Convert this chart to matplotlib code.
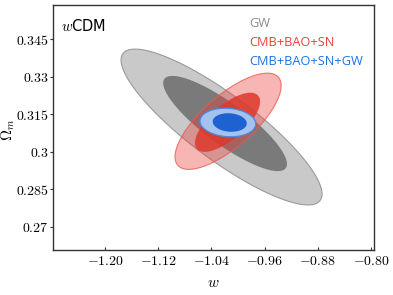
import numpy as np
import matplotlib
matplotlib.use("Agg")
import matplotlib.pyplot as plt

plt.rcParams["mathtext.fontset"] = "cm"

# contour parameters: [95% outer, 68% inner]
gw_w = [-1.0248, -1.0195]
gw_om = [0.3099, 0.3113]
gw_dw = [0.151, 0.093]
gw_dom = [0.0311, 0.0190]
gw_rho = [-0.86, -0.85]

cbs_w = [-1.015, -1.0158]
cbs_om = [0.3122, 0.3118]
cbs_dw = [0.0797, 0.0489]
cbs_dom = [0.0192, 0.0118]
cbs_rho = [0.74, 0.70]

cbsg_w = [-1.0153, -1.0125]
cbsg_om = [0.3117, 0.3117]
cbsg_dw = [0.0419, 0.0256]
cbsg_dom = [0.0057, 0.0037]
cbsg_rho = [-0.10, -0.10]

labels = ["GW", "CMB+BAO+SN", "CMB+BAO+SN+GW"]
xticks = [-1.20, -1.12, -1.04, -0.96, -0.88, -0.80]
yticks = [0.27, 0.285, 0.30, 0.315, 0.33, 0.345]
ytick_labels = ["0.27", "0.285", "0.3", "0.315", "0.33", "0.345"]


def ellipse(cx, cy, dx, dy, rho):
    t = np.linspace(0, 2 * np.pi, 300)
    x = cx + dx * np.cos(t)
    y = cy + dy * (rho * np.cos(t) + np.sqrt(1 - rho ** 2) * np.sin(t))
    return x, y


fig = plt.figure(figsize=(3.93, 2.95), dpi=100)
ax = fig.add_axes([0.135, 0.1525, 0.817, 0.8305])

# GW
x, y = ellipse(gw_w[0], gw_om[0], gw_dw[0], gw_dom[0], gw_rho[0])
ax.fill(x, y, fc="#c9c9c9", ec="#9a9a9a", lw=0.8, zorder=1)
x, y = ellipse(gw_w[1], gw_om[1], gw_dw[1], gw_dom[1], gw_rho[1])
ax.fill(x, y, fc="#7a7a7a", ec="none", zorder=2)

# CMB+BAO+SN
x, y = ellipse(cbs_w[0], cbs_om[0], cbs_dw[0], cbs_dom[0], cbs_rho[0])
ax.fill(x, y, fc=(0.92, 0.25, 0.22, 0.38), ec=(0.92, 0.35, 0.32, 0.8), lw=0.8, zorder=3)
x, y = ellipse(cbs_w[1], cbs_om[1], cbs_dw[1], cbs_dom[1], cbs_rho[1])
ax.fill(x, y, fc=(0.87, 0.22, 0.17, 0.85), ec="none", zorder=4)

# CMB+BAO+SN+GW
x, y = ellipse(cbsg_w[0], cbsg_om[0], cbsg_dw[0], cbsg_dom[0], cbsg_rho[0])
ax.fill(x, y, fc="#a3c2f0", ec="#4f86dc", lw=0.9, zorder=5)
x, y = ellipse(cbsg_w[1], cbsg_om[1], cbsg_dw[1], cbsg_dom[1], cbsg_rho[1])
ax.fill(x, y, fc="#1d62d0", ec="none", zorder=6)

ax.set_xlim(-1.278, -0.7955)
ax.set_ylim(0.2608, 0.3586)
ax.set_xticks(xticks, [r"$%.2f$" % v for v in xticks])
ax.set_yticks(yticks, [r"$%s$" % s for s in ytick_labels])
ax.tick_params(axis="x", direction="in", length=2.5, labelsize=10, pad=3, color="#333333")
ax.tick_params(axis="y", direction="out", length=2, labelsize=10, pad=1, color="#333333")
for s in ax.spines.values():
    s.set_color("#333333")
    s.set_linewidth(1.0)

ax.set_xlabel(r"$w$", fontsize=11, labelpad=5)
ax.set_ylabel(r"$\Omega_m$", fontsize=11)
ax.yaxis.set_label_coords(-0.112, 0.49)

ax.text(0.025, 0.915, r"$w$CDM", transform=ax.transAxes, fontsize=10.5,
        family="DejaVu Sans", va="center")

colors = ["#8a8a8a", "#e8423a", "#1a73e8"]
for i, (lab, c) in enumerate(zip(labels, colors)):
    ax.text(0.612, 0.925 - i * 0.077, lab, color=c, transform=ax.transAxes,
            fontsize=9.2, family="Open Sans", va="center")

fig.savefig("out.png", dpi=100)
